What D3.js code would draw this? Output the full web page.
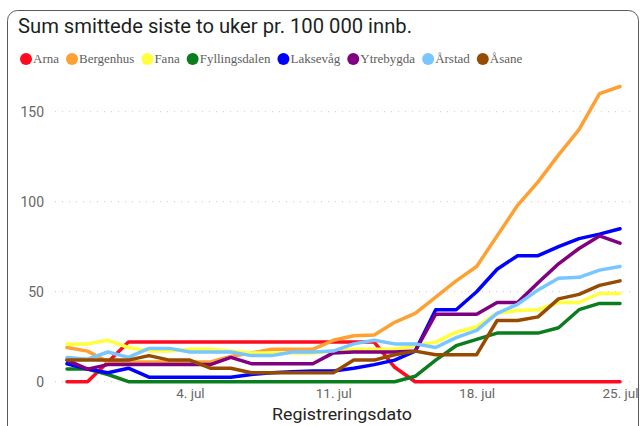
<!DOCTYPE html>
<html>
<head>
<meta charset="utf-8">
<script src="https://cdn.jsdelivr.net/npm/d3@7"></script>
<style>
  html, body { margin: 0; padding: 0; background: #ffffff; }
  svg { display: block; }
</style>
</head>
<body>
<svg id="chart" width="641" height="426"></svg>
<script>
// ---- data ----
const dates = [
  "2021-06-28","2021-06-29","2021-06-30","2021-07-01","2021-07-02","2021-07-03","2021-07-04",
  "2021-07-05","2021-07-06","2021-07-07","2021-07-08","2021-07-09","2021-07-10","2021-07-11",
  "2021-07-12","2021-07-13","2021-07-14","2021-07-15","2021-07-16","2021-07-17","2021-07-18",
  "2021-07-19","2021-07-20","2021-07-21","2021-07-22","2021-07-23","2021-07-24","2021-07-25"
];
const districts = ["Arna","Bergenhus","Fana","Fyllingsdalen","Laksevåg","Ytrebygda","Årstad","Åsane"];
const colors = ["#ff0a1e","#ffa033","#ffff3c","#0a7d1e","#0000ff","#800080","#78c6ff","#964b00"];

const arna          = [0,0,11,22,22,22,22,22,22,22,22,22,22,22,22,22,8,0,0,0,0,0,0,0,0,0,0,0];
const bergenhus     = [19,17,11,11,11,11,11,11,14,16,18,18,18,23,25.5,26,33,38,47,56,64,81,98,111,126,140,160,164];
const fana          = [21,21,23,19,17,17,18,18,17,16,16,16,16,17,18,18,18,20,22,27.5,30.5,38,39.5,40,44,44,49,49];
const fyllingsdalen = [7,7,4,0,0,0,0,0,0,0,0,0,0,0,0,0,0,3,12,20,23.5,27,27,27,30,40,43.5,43.5];
const laksevag      = [10,7,5,7.5,2.5,2.5,2.5,2.5,2.5,4,5,5.5,6,6,7.5,9.5,12,17,40,40,50,62.5,70,70,75,79.5,82,85];
const ytrebygda     = [12,7,9.5,9.5,9.5,9.5,9.5,9.5,13.5,10,10,10,10,16,16.5,16.5,16.5,17,37.5,37.5,37.5,44,44,55,65.5,74,81,77];
const arstad        = [13.5,12.5,16.5,13.5,18.5,18.5,16.5,16.5,16.5,14.5,14.5,16.5,16.5,17,21,23,21,21,19,24.5,28.5,38,43,51,57.5,58,62,64];
const asane         = [12,12,12,12,14.5,12,12,7.5,7.5,5,5,5,5,5,12,12,15,17,15,15,15,34,34,36,46,48.5,53.5,56];

const seriesValues = [arna, bergenhus, fana, fyllingsdalen, laksevag, ytrebygda, arstad, asane];

const yTicks = [0, 50, 100, 150];
const xTickDates = ["2021-07-04","2021-07-11","2021-07-18","2021-07-25"];
const xTickLabels = ["4. jul","11. jul","18. jul","25. jul"];

const titleText = "Sum smittede siste to uker pr. 100 000 innb.";
const xAxisTitle = "Registreringsdato";

// ---- drawing ----
const parse = d3.utcParse("%Y-%m-%d");
const svg = d3.select("#chart");

// card
svg.append("rect")
  .attr("x", 7.5).attr("y", 10.5)
  .attr("width", 631).attr("height", 430)
  .attr("rx", 10).attr("ry", 10)
  .attr("fill", "#ffffff")
  .attr("stroke", "#5a5a5a")
  .attr("stroke-width", 1);

// title
svg.append("text")
  .attr("x", 18).attr("y", 33)
  .attr("font-family", "Roboto, 'DejaVu Sans', sans-serif")
  .attr("font-size", 20)
  .attr("textLength", 394)
  .attr("lengthAdjust", "spacingAndGlyphs")
  .attr("fill", "#201f1e")
  .text(titleText);

// legend
const legend = svg.append("g").attr("transform", "translate(0,59)");
let lx = 26;
districts.forEach((name, i) => {
  legend.append("circle").attr("cx", lx).attr("cy", 0).attr("r", 6).attr("fill", colors[i]);
  const t = legend.append("text")
    .attr("x", lx + 7).attr("y", 4)
    .attr("font-family", "'Liberation Serif', 'Times New Roman', serif")
    .attr("font-size", 13)
    .attr("fill", "#605e5c")
    .text(name);
  const w = t.node().getComputedTextLength();
  lx = lx + 7 + w + 13;
});

// scales
const x = d3.scaleUtc()
  .domain([parse(dates[0]), parse(dates[dates.length - 1])])
  .range([67, 620]);
const y = d3.scaleLinear().domain([0, 150]).range([381.7, 111.7]);

// gridlines
const grid = svg.append("g");
yTicks.forEach(v => {
  grid.append("line")
    .attr("x1", 55).attr("x2", 632)
    .attr("y1", y(v)).attr("y2", y(v))
    .attr("stroke", "#c8c8c8")
    .attr("stroke-width", 1)
    .attr("stroke-dasharray", "1,6");
});

// y axis
const yAxis = d3.axisLeft(y).tickValues(yTicks).tickSize(0).tickPadding(0);
const yg = svg.append("g").attr("transform", "translate(44,0)").call(yAxis);
yg.select(".domain").remove();
yg.selectAll("text")
  .attr("font-family", "Roboto, sans-serif")
  .attr("font-size", 14)
  .attr("fill", "#666666");

// x axis
const xAxis = d3.axisBottom(x)
  .tickValues(xTickDates.map(parse))
  .tickSize(0).tickPadding(0)
  .tickFormat((d, i) => xTickLabels[i]);
const xg = svg.append("g").attr("transform", "translate(0,388)").call(xAxis);
xg.select(".domain").remove();
xg.selectAll("text")
  .attr("font-family", "Roboto, sans-serif")
  .attr("font-size", 13.5)
  .attr("fill", "#666666");

// x axis title
svg.append("text")
  .attr("x", 342).attr("y", 420)
  .attr("text-anchor", "middle")
  .attr("font-family", "Roboto, sans-serif")
  .attr("font-size", 17)
  .attr("textLength", 140)
  .attr("lengthAdjust", "spacingAndGlyphs")
  .attr("fill", "#252423")
  .text(xAxisTitle);

// lines
const line = d3.line()
  .x((d, i) => x(parse(dates[i])))
  .y(d => y(d));

seriesValues.forEach((vals, i) => {
  svg.append("path")
    .datum(vals)
    .attr("d", line)
    .attr("fill", "none")
    .attr("stroke", colors[i])
    .attr("stroke-width", 3.5)
    .attr("stroke-linejoin", "round")
    .attr("stroke-linecap", "round");
});
</script>
</body>
</html>
